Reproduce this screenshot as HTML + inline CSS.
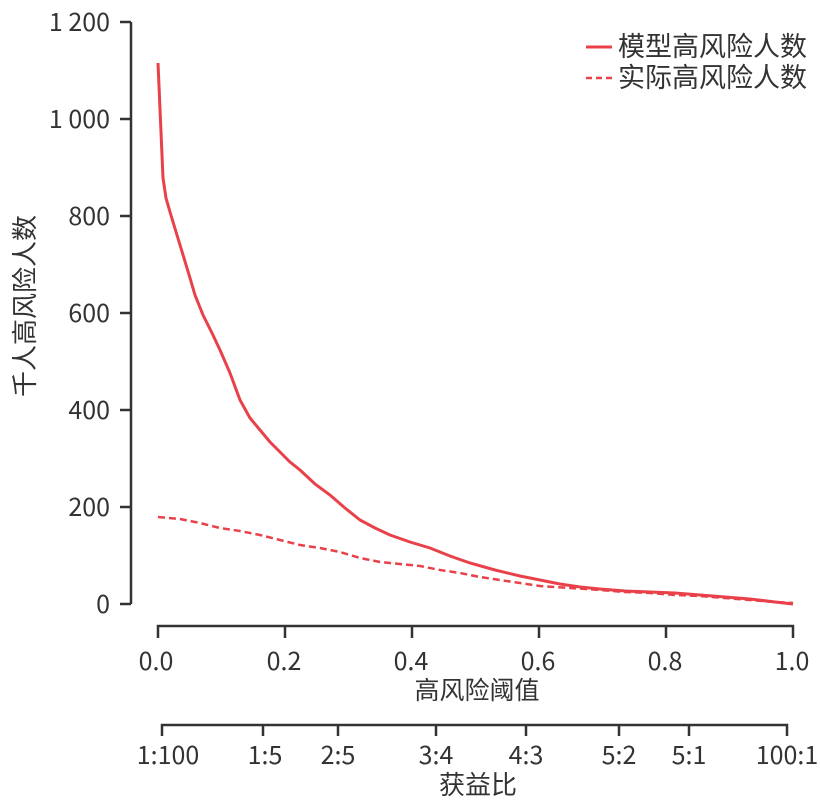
<!DOCTYPE html>
<html><head><meta charset="utf-8"><style>
body{margin:0;background:#fff;}
svg text{font-family:"Noto Sans CJK SC","Liberation Sans",sans-serif;fill:#333;}
</style></head><body>
<svg width="820" height="806" viewBox="0 0 820 806" xmlns="http://www.w3.org/2000/svg">
<g stroke="#333" stroke-width="2.5" fill="none">
<path d="M131,22 V604"/>
<path d="M120,22H131M120,119H131M120,216H131M120,313H131M120,410H131M120,507H131M120,604H131"/>
<path d="M158,638V626H793V638M285,626V638M412,626V638M539,626V638M666,626V638"/>
<path d="M162,736V725H787V736M263,725V736M338,725V736M436,725V736M526,725V736M619,725V736M689,725V736"/>
</g>
<g font-size="25" text-anchor="end">
<text x="110" y="31">1 200</text><text x="110" y="128">1 000</text><text x="110" y="225">800</text>
<text x="110" y="322">600</text><text x="110" y="419">400</text><text x="110" y="516">200</text><text x="110" y="613">0</text>
</g>
<g font-size="25" text-anchor="middle">
<text x="156" y="670">0.0</text><text x="284" y="670">0.2</text><text x="411" y="670">0.4</text>
<text x="538" y="670">0.6</text><text x="665" y="670">0.8</text><text x="792" y="670">1.0</text>
<text x="477" y="699">高风险阈值</text>
<text x="168" y="764">1:100</text><text x="265" y="764">1:5</text><text x="338" y="764">2:5</text>
<text x="436" y="764">3:4</text><text x="526" y="764">4:3</text><text x="619" y="764">5:2</text>
<text x="689" y="764">5:1</text><text x="787" y="764">100:1</text>
<text x="478" y="794" font-size="26">获益比</text>
<text transform="translate(34,306) rotate(-90)" font-size="26">千人高风险人数</text>
</g>
<path fill="none" stroke="#e8414a" stroke-width="3" d="M158,63 L163,178 L166,198 L170,212 L180,245 L190,278 L195,295 L203,315 L212,333 L220,350 L230,373 L240,400 L250,418 L260,430 L270,442 L280,452 L290,462 L300,470 L315,484 L330,495 L345,508 L360,520 L375,528 L390,535 L410,542 L430,548 L450,556 L470,563 L495,570 L520,576 L540,580 L560,584 L580,587 L600,589 L625,591 L650,592 L675,593 L700,595 L725,597 L750,599 L775,602 L793,604"/>
<path fill="none" stroke="#e8414a" stroke-width="2.5" stroke-dasharray="7,4" d="M158,517 L180,519 L200,523 L220,528 L240,531 L260,535 L280,540 L300,545 L320,548 L340,552 L360,558 L380,562 L400,564 L420,566 L440,570 L460,573 L480,577 L500,580 L520,583 L540,586 L570,588 L600,590 L625,592 L650,593 L675,595 L700,596 L725,598 L750,600 L775,602 L793,603"/>
<path stroke="#e8414a" stroke-width="3" d="M586,47H612"/>
<path stroke="#e8414a" stroke-width="2.5" stroke-dasharray="6,4" d="M586,78H612"/>
<g font-size="27"><text x="618" y="56">模型高风险人数</text><text x="618" y="87">实际高风险人数</text></g>
</svg>
</body></html>
